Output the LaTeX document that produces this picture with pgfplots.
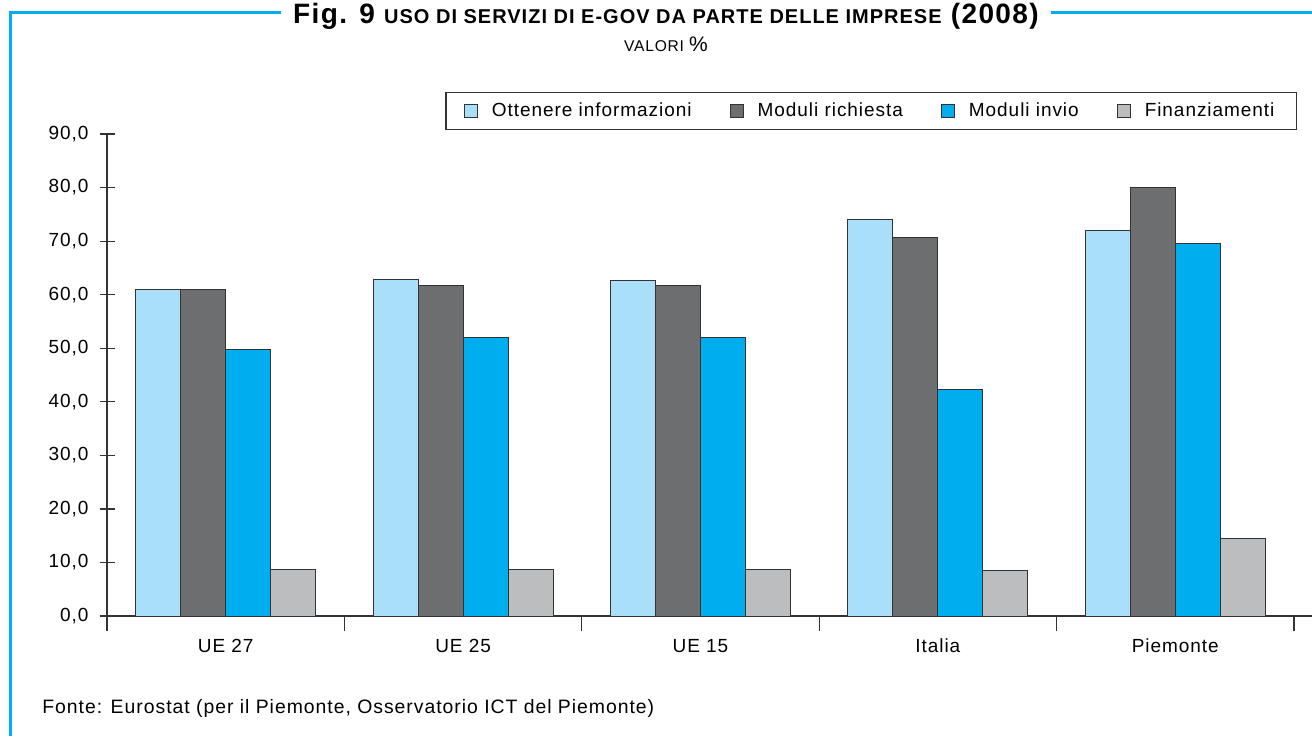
\documentclass[border=0pt]{standalone}
\usepackage{pgfplots}
\pgfplotsset{compat=1.18}
\usepackage{fontspec}
\setmainfont{Liberation Sans}[LetterSpace=5]
\definecolor{cornice}{HTML}{00AEEF}
\definecolor{info}{HTML}{A9DFF9}
\definecolor{richiesta}{HTML}{6D6E70}
\definecolor{invio}{HTML}{00ADEE}
\definecolor{finanz}{HTML}{BCBDBF}

\begin{document}
\begin{tikzpicture}
\useasboundingbox (0,0) rectangle (656pt,-368pt);

% cornice e titolo
\draw[cornice, line width=1.5pt] (5pt,-368pt) -- (5pt,-6pt) -- (656pt,-6pt);
\node[fill=white, inner xsep=6pt, inner ysep=1pt] at (333pt,-8pt)
  {\bfseries\fontsize{14}{16}\selectfont Fig. 9 {\fontsize{10}{12}\selectfont USO DI SERVIZI DI E-GOV DA PARTE DELLE IMPRESE} (2008)};
\node at (333pt,-22pt) {\fontsize{7.8}{9}\selectfont VALORI {\fontsize{10.5}{12}\selectfont \%}};
\node[anchor=west, inner sep=0pt] at (21pt,-354pt)
  {\fontsize{9.7}{11}\selectfont Fonte: Eurostat (per il Piemonte, Osservatorio ICT del Piemonte)};

\begin{axis}[
    at={(53.5pt,-308pt)},
    anchor=south west,
    scale only axis,
    width=602.5pt,
    height=241pt,
    xmin=-0.5, xmax=4.576,
    ymin=0, ymax=90,
    axis x line=bottom,
    axis y line=left,
    axis line style={-, black!80, line width=0.6pt},
    tick style={black!80, line width=0.6pt},
    tick align=center,
    major tick length=7.5pt,
    ytick={0,10,...,90},
    xtick={-0.5,0.5,...,4.5},
    xticklabels={},
    extra x ticks={0,1,2,3,4},
    extra x tick labels={UE 27, UE 25, UE 15, Italia, Piemonte},
    extra x tick style={major tick length=0pt},
    tick label style={font=\fontsize{9.5}{11}\selectfont},
    /pgf/number format/assume math mode=true,
    /pgf/number format/.cd, fixed, fixed zerofill, precision=1, use comma,
    /pgfplots/.cd,
    yticklabel style={xshift=-2pt},
    xticklabel style={yshift=-8pt},
    ybar=0pt,
    bar width=22.5pt,
    legend columns=4,
    legend style={
        at={(rel axis cs:0.9876,1.0083)}, anchor=south east,
        draw=black!80, line width=0.6pt,
        font=\fontsize{9.5}{11}\selectfont,
        inner xsep=9pt, inner ysep=3pt,
        /tikz/every odd column/.append style={column sep=5pt},
        /tikz/every even column/.append style={column sep=17pt},
    },
    legend image code/.code={
        \draw[#1, line width=0.5pt] (0pt,-3.25pt) rectangle (6.5pt,3.25pt);
    },
]
\addplot[fill=info, draw=black!80, line width=0.5pt] coordinates {
    (0,61.0) (1,62.8) (2,62.6) (3,74.0) (4,72.0)
};
\addlegendentry{Ottenere informazioni}
\addplot[fill=richiesta, draw=black!80, line width=0.5pt] coordinates {
    (0,61.0) (1,61.7) (2,61.7) (3,70.7) (4,80.0)
};
\addlegendentry{Moduli richiesta}
\addplot[fill=invio, draw=black!80, line width=0.5pt] coordinates {
    (0,49.8) (1,52.0) (2,52.0) (3,42.3) (4,69.6)
};
\addlegendentry{Moduli invio}
\addplot[fill=finanz, draw=black!80, line width=0.5pt] coordinates {
    (0,8.7) (1,8.7) (2,8.7) (3,8.5) (4,14.4)
};
\addlegendentry{Finanziamenti}
\end{axis}
\end{tikzpicture}
\end{document}
